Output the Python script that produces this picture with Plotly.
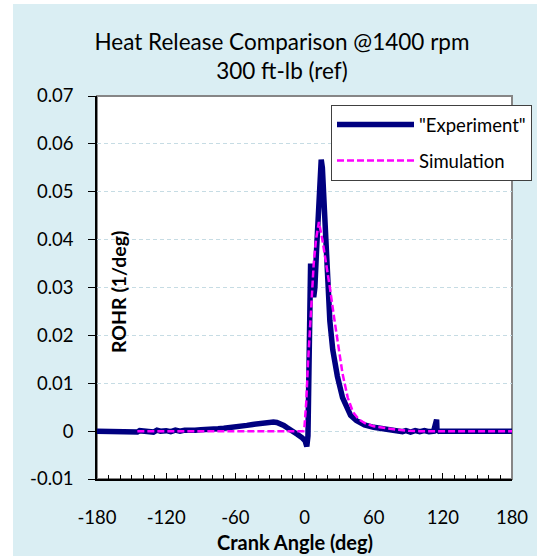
import plotly.graph_objects as go

# ---------------- data ----------------
exp_angle = [-180, -146, -145, -143, -140, -135, -131, -128, -125, -120, -116, -112, -108,
             -104, -100, -95, -90, -85, -80, -75, -70, -65, -60, -55, -50, -45, -40, -35,
             -30, -27, -24, -21, -18, -15, -12, -10, -6, -2, 0.5, 2, 3, 4, 5.3, 6.3, 8,
             9, 10.5, 12, 13.5, 14.5, 15.5, 17, 18.5, 20, 22, 24.5, 28.5, 33, 37, 40, 45,
             52, 60, 70, 80, 85, 88, 92, 96, 100, 104, 108, 112, 114.3, 114.6, 115, 116, 180]
exp_rohr = [0, 0, -0.0002, 0.0001, 0, 0.0001, -0.0002, 0.0002, 0, 0.0001, -0.0001, 0.0002, 0,
            0.0002, 0.0001, 0.0002, 0.0003, 0.0003, 0.0004, 0.0005, 0.0006, 0.0007, 0.0008,
            0.001, 0.0012, 0.0014, 0.0016, 0.0018, 0.0019, 0.0019, 0.0018, 0.0016, 0.0012,
            0.0007, 0.0003, 0.0, -0.0007, -0.0014, -0.002, -0.0032, -0.001, 0.015, 0.035,
            0.033, 0.028, 0.030, 0.038, 0.047, 0.055, 0.0567, 0.055, 0.046, 0.037, 0.030,
            0.023, 0.017, 0.0115, 0.007, 0.0045, 0.0033, 0.0022, 0.0013, 0.0008, 0.0004,
            0.0001, -0.0001, 0.0001, -0.0002, 0.0001, -0.0001, 0.0001, -0.0001, 0,
            0.0024, 0.0024, -0.0002, 0, 0]

sim_angle = [-145, -1, 0, 1.5, 3, 4.8, 6.5, 8, 10, 12.5, 15.5, 19, 22, 25.5, 29, 33, 37.5,
             42, 47, 52, 60, 70, 80, 90, 100, 180]
sim_rohr = [0, 0, 0.001, 0.006, 0.014, 0.022, 0.029, 0.035, 0.040, 0.0437, 0.040, 0.035,
            0.030, 0.024, 0.018, 0.012, 0.007, 0.004, 0.0025, 0.0017, 0.001, 0.0006, 0.0003,
            0.0001, 0, 0]

x_ticks = [-180, -120, -60, 0, 60, 120, 180]
x_tick_text = ["-180", "-120", "-60", "0", "60", "120", "180"]
y_ticks = [-0.01, 0, 0.01, 0.02, 0.03, 0.04, 0.05, 0.06, 0.07]
y_tick_text = ["-0.01", "0", "0.01", "0.02", "0.03", "0.04", "0.05", "0.06", "0.07"]

# ---------------- layout constants ----------------
W, H = 537, 556
L, R, T, B = 97, 512, 96, 479  # plot area in pixels
FONT = "Lato"


def px_x(p):
    return (p - L) / (R - L)


def px_y(p):
    return (B - p) / (B - T)


fig = go.Figure()
fig.add_trace(go.Scatter(x=exp_angle, y=exp_rohr, mode="lines", name='"Experiment"',
                         line=dict(color="#000080", width=5.5), legendgroup="a"))
fig.add_trace(go.Scatter(x=sim_angle, y=sim_rohr, mode="lines", name="Simulation",
                         line=dict(color="#FF00FF", width=2.5, dash="7px,3px"),
                         legendgroup="b"))

shapes = [
    # light blue chart area
    dict(type="rect", xref="paper", yref="paper", x0=px_x(13), x1=px_x(W + 5),
         y0=px_y(H + 5), y1=px_y(4), fillcolor="#DAEEF3", line=dict(width=0), layer="below"),
    # white plot area with grey border
    dict(type="rect", xref="paper", yref="paper", x0=0, x1=1, y0=0, y1=1,
         fillcolor="white", line=dict(color="#868686", width=2), layer="below"),
]

fig.update_layout(
    width=W, height=H,
    margin=dict(l=L, r=W - R, t=T, b=H - B, pad=0, autoexpand=False),
    paper_bgcolor="white", plot_bgcolor="white",
    font=dict(family=FONT, size=18, color="#000000"),
    shapes=shapes,
    title=dict(text="Heat Release Comparison @1400 rpm<br>300 ft-lb (ref)",
               x=282 / W, xref="container", xanchor="center",
               y=1 - 50 / H, yref="container", yanchor="middle",
               font=dict(family=FONT, size=22.5, color="#000000")),
    showlegend=True,
    legend=dict(x=331 / W, y=1 - 105 / H, xref="container", yref="container",
                xanchor="left", yanchor="top",
                bgcolor="white", bordercolor="#404040", borderwidth=1,
                font=dict(family=FONT, size=18.5), tracegroupgap=9,
                itemwidth=77, traceorder="grouped"),
    annotations=[
        dict(text="<b>ROHR (1/deg)</b>", xref="paper", yref="paper",
             x=px_x(118), y=px_y(292), textangle=-90, showarrow=False,
             xanchor="center", yanchor="middle",
             font=dict(family=FONT, size=19.5, color="#000000")),
        dict(text="<b>Crank Angle (deg)</b>", xref="paper", yref="paper",
             x=px_x(294.5), y=px_y(542), showarrow=False,
             xanchor="center", yanchor="middle",
             font=dict(family=FONT, size=20, color="#000000")),
    ],
)

fig.update_xaxes(range=[-180, 180], tickvals=x_ticks, ticktext=x_tick_text,
                 ticks="inside", ticklen=6,
                 tickcolor="black", tickwidth=1, showgrid=False, zeroline=False,
                 showline=True, linecolor="black", linewidth=1.5,
                 ticklabelstandoff=21,
                 minor=dict(dtick=10, tick0=-180, ticks="inside", ticklen=4,
                            tickcolor="black", showgrid=False),
                 tickfont=dict(family=FONT, size=18.5))
fig.update_yaxes(range=[-0.01, 0.07], tickvals=y_ticks, ticktext=y_tick_text,
                 ticks="outside", ticklen=7, tickcolor="black", tickwidth=1,
                 showgrid=True, gridcolor="#C6DCE4", gridwidth=1, griddash="4px,3px",
                 zeroline=False, showline=True, linecolor="black", linewidth=1.5,
                 ticklabelstandoff=11, tickfont=dict(family=FONT, size=18.5))

fig.write_html("out.html")
